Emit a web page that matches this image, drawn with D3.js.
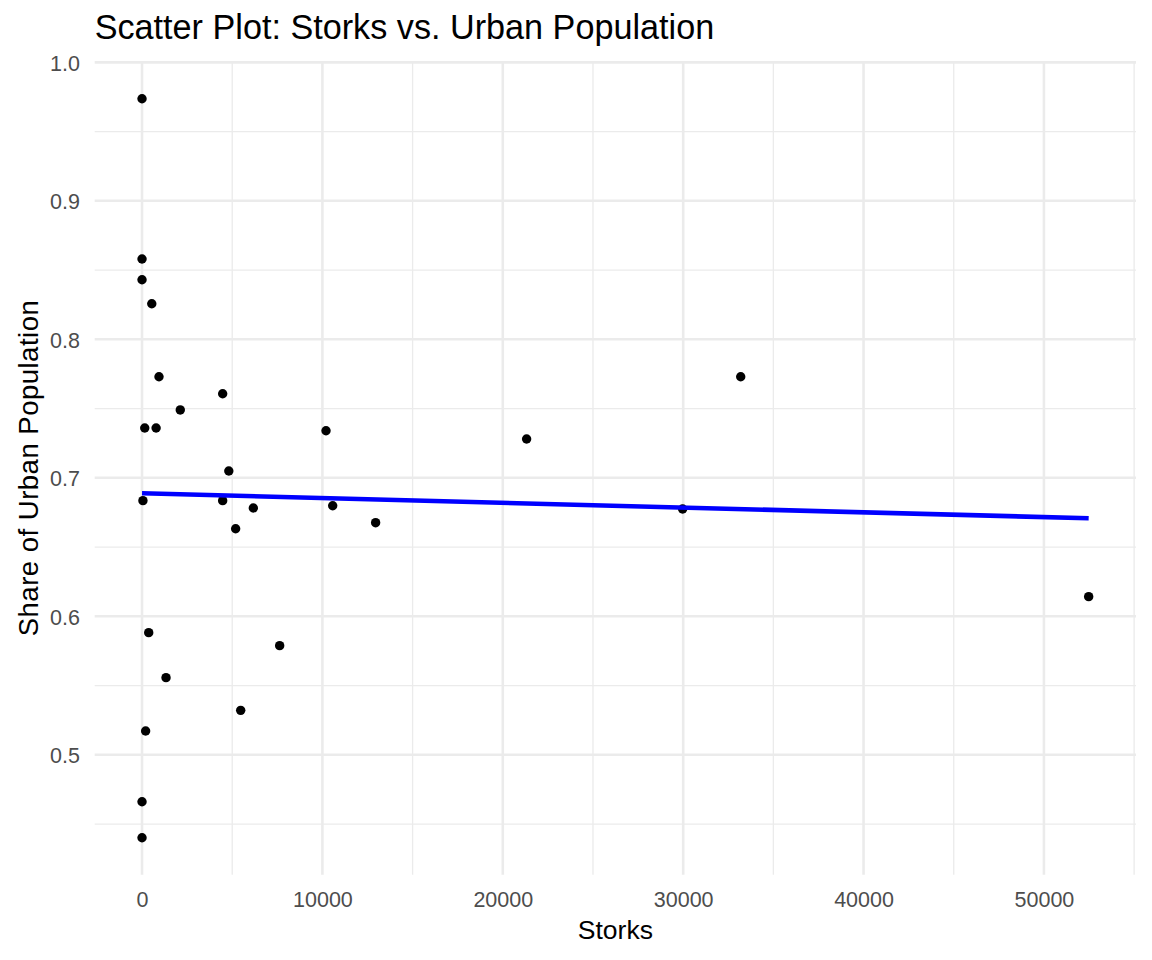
<!DOCTYPE html>
<html lang="en">
<head>
<meta charset="utf-8">
<title>Scatter Plot: Storks vs. Urban Population</title>
<script src="https://d3js.org/d3.v7.min.js"></script>
<style>
  body { margin: 0; background: #fff; }
  svg text { font-family: "Liberation Sans", Arial, sans-serif; }
  .grid-major { stroke: #EBEBEB; stroke-width: 2.6; }
  .grid-minor { stroke: #EBEBEB; stroke-width: 1.3; }
  .tick-label { fill: #4D4D4D; font-size: 21.5px; }
</style>
</head>
<body>
<script>
// values
var storks = [0, 0, 0, 540, 940, 4470, 2120, 150, 780, 10200, 21320, 33190, 29970,
              50, 4810, 4470, 6170, 5190, 10570, 12950, 52480, 370, 1330, 7630, 5470, 200, 0, 0];
var urbanShare = [0.9737, 0.858, 0.843, 0.8257, 0.773, 0.7607, 0.749, 0.736, 0.736, 0.734, 0.728, 0.773, 0.6775,
                  0.6835, 0.7049, 0.6835, 0.6782, 0.6632, 0.6798, 0.6676, 0.6142, 0.5882, 0.5557, 0.5788, 0.5321, 0.5172, 0.4661, 0.4401];
// fitted lm line (ends at min and max storks)
var fitStorks = [0, 52480];
var fitShare = [0.6888, 0.6708];

var xMajor = [0, 10000, 20000, 30000, 40000, 50000];
var xMinor = [5000, 15000, 25000, 35000, 45000, 55000];
var yMajor = [0.5, 0.6, 0.7, 0.8, 0.9, 1.0];
var yMinor = [0.45, 0.55, 0.65, 0.75, 0.85, 0.95];

var width = 1152, height = 960;
var panelL = 94.7, panelR = 1136, panelT = 61.8, panelB = 874.7;

function expand(ext) {
  var pad = (ext[1] - ext[0]) * 0.05;
  return [ext[0] - pad, ext[1] + pad];
}

var x = d3.scaleLinear().domain(expand(d3.extent(storks))).range([panelL, panelR]);
var y = d3.scaleLinear().domain(expand(d3.extent(urbanShare))).range([panelB, panelT]);

var svg = d3.select("body").append("svg")
  .attr("width", width).attr("height", height);

// grid
var grid = svg.append("g");
grid.selectAll("line.xmin").data(xMinor.filter(d => x(d) <= panelR + 0.5)).enter().append("line")
  .attr("class", "grid-minor")
  .attr("x1", d => x(d)).attr("x2", d => x(d)).attr("y1", panelT).attr("y2", panelB);
grid.selectAll("line.ymin").data(yMinor).enter().append("line")
  .attr("class", "grid-minor")
  .attr("x1", panelL).attr("x2", panelR).attr("y1", d => y(d)).attr("y2", d => y(d));
grid.selectAll("line.xmaj").data(xMajor).enter().append("line")
  .attr("class", "grid-major")
  .attr("x1", d => x(d)).attr("x2", d => x(d)).attr("y1", panelT).attr("y2", panelB);
grid.selectAll("line.ymaj").data(yMajor).enter().append("line")
  .attr("class", "grid-major")
  .attr("x1", panelL).attr("x2", panelR).attr("y1", d => y(d)).attr("y2", d => y(d));

// axes, no lines or ticks (theme_minimal)
var xAxis = d3.axisBottom(x).tickValues(xMajor).tickFormat(d3.format("d")).tickSize(0).tickPadding(0);
var gx = svg.append("g").attr("transform", `translate(0, ${panelB})`).call(xAxis);
gx.select(".domain").remove();
gx.selectAll("text").attr("class", "tick-label").attr("dy", null).attr("y", 32)
  .attr("font-family", null).attr("font-size", null);

var yAxis = d3.axisLeft(y).tickValues(yMajor).tickFormat(d3.format(".1f")).tickSize(0).tickPadding(0);
var gy = svg.append("g").attr("transform", `translate(80, 0)`).call(yAxis);
gy.select(".domain").remove();
gy.selectAll("text").attr("class", "tick-label").attr("x", 0).attr("dy", "0.36em")
  .attr("font-family", null).attr("font-size", null);

// points
svg.append("g").selectAll("circle")
  .data(storks.map((s, i) => [s, urbanShare[i]]))
  .enter().append("circle")
  .attr("cx", d => x(d[0]))
  .attr("cy", d => y(d[1]))
  .attr("r", 4.7)
  .attr("fill", "#000");

// regression line
var line = d3.line().x(d => x(d[0])).y(d => y(d[1]));
svg.append("path")
  .datum(fitStorks.map((s, i) => [s, fitShare[i]]))
  .attr("d", line)
  .attr("fill", "none")
  .attr("stroke", "#0000FF")
  .attr("stroke-width", 4.6);

// titles
svg.append("text")
  .attr("x", panelL).attr("y", 39)
  .attr("font-size", 34.2).attr("fill", "#000")
  .text("Scatter Plot: Storks vs. Urban Population");

svg.append("text")
  .attr("x", (panelL + panelR) / 2).attr("y", 939)
  .attr("text-anchor", "middle")
  .attr("font-size", 26.5).attr("fill", "#000")
  .text("Storks");

svg.append("text")
  .attr("transform", `translate(38, ${(panelT + panelB) / 2}) rotate(-90)`)
  .attr("text-anchor", "middle")
  .attr("font-size", 27.5).attr("fill", "#000")
  .attr("textLength", 336).attr("lengthAdjust", "spacing")
  .text("Share of Urban Population");
</script>
</body>
</html>
